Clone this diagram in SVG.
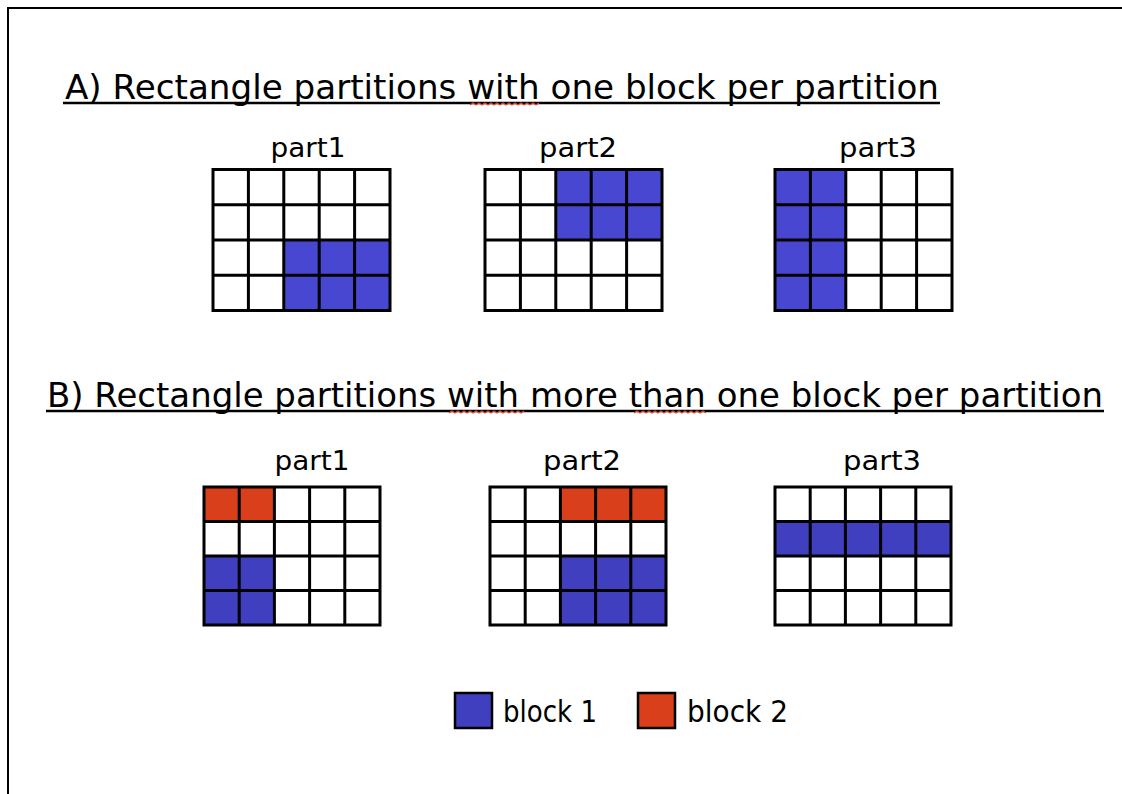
<svg xmlns="http://www.w3.org/2000/svg" xmlns:xlink="http://www.w3.org/1999/xlink" width="1122" height="794" viewBox="0 0 1122 794">
  <style>
    .title { font-family: "DejaVu Sans", "Liberation Sans", sans-serif; font-size: 34px; fill: #000; }
    .part { font-family: "DejaVu Sans", "Liberation Sans", sans-serif; font-size: 27px; fill: #000; text-anchor: middle; }
    .leg { font-family: "DejaVu Sans", "Liberation Sans", sans-serif; font-size: 31px; fill: #000; }
    .grid { fill: none; stroke: #000; stroke-width: 3; stroke-linecap: square; }
    .ul { stroke: #000; stroke-width: 2.5; }
    .sq { fill: none; stroke: #e0482f; stroke-width: 1.2; }
    .b1a { fill: #4747d1; }
    .b1 { fill: #3f3fc0; }
    .b2 { fill: #d83f1a; }
  </style>
  <defs>
    <path id="gridA" class="grid" d="M0,0 H177 V141 H0 Z M35.4,0 V141 M70.8,0 V141 M106.2,0 V141 M141.6,0 V141 M0,35.25 H177 M0,70.5 H177 M0,105.75 H177"/>
    <path id="gridB" class="grid" d="M0,0 H176 V138 H0 Z M35.2,0 V138 M70.4,0 V138 M105.6,0 V138 M140.8,0 V138 M0,34.5 H176 M0,69 H176 M0,103.5 H176"/>
  </defs>
  <rect width="1122" height="794" fill="#fff"/>
  <path d="M8,794 V8 H1122" fill="none" stroke="#000" stroke-width="2"/>

  <g id="titleA">
    <text class="title" x="65" y="99" textLength="874" lengthAdjust="spacingAndGlyphs">A) Rectangle partitions with one block per partition</text>
    <line class="ul" x1="63" y1="103" x2="940" y2="103"/>
    <path class="sq" d="M470,105 l3,-2 l3,2 l3,-2 l3,2 l3,-2 l3,2 l3,-2 l3,2 l3,-2 l3,2 l3,-2 l3,2 l3,-2 l3,2 l3,-2 l3,2 l3,-2 l3,2 l3,-2 l3,2 l3,-2 l3,2 l3,-2"/>
  </g>

  <g id="A-part1">
    <text class="part" x="308" y="157" textLength="75" lengthAdjust="spacingAndGlyphs">part1</text>
    <g transform="translate(213,169.5)">
      <rect class="b1a" x="70.8" y="70.5" width="106.2" height="70.5"/>
      <use xlink:href="#gridA"/>
    </g>
  </g>
  <g id="A-part2">
    <text class="part" x="578" y="157" textLength="78" lengthAdjust="spacingAndGlyphs">part2</text>
    <g transform="translate(485,169.5)">
      <rect class="b1a" x="70.8" y="0" width="106.2" height="70.5"/>
      <use xlink:href="#gridA"/>
    </g>
  </g>
  <g id="A-part3">
    <text class="part" x="878" y="157" textLength="78" lengthAdjust="spacingAndGlyphs">part3</text>
    <g transform="translate(775,169.5)">
      <rect class="b1a" x="0" y="0" width="70.8" height="141"/>
      <use xlink:href="#gridA"/>
    </g>
  </g>

  <g id="titleB">
    <text class="title" x="47" y="407" textLength="1056" lengthAdjust="spacingAndGlyphs">B) Rectangle partitions with more than one block per partition</text>
    <line class="ul" x1="46" y1="411" x2="1104" y2="411"/>
    <path class="sq" d="M449,413 l3,-2 l3,2 l3,-2 l3,2 l3,-2 l3,2 l3,-2 l3,2 l3,-2 l3,2 l3,-2 l3,2 l3,-2 l3,2 l3,-2 l3,2 l3,-2 l3,2 l3,-2 l3,2 l3,-2 l3,2 l3,-2 l3,2 l3,-2"/>
    <path class="sq" d="M634,413 l3,-2 l3,2 l3,-2 l3,2 l3,-2 l3,2 l3,-2 l3,2 l3,-2 l3,2 l3,-2 l3,2 l3,-2 l3,2 l3,-2 l3,2 l3,-2 l3,2 l3,-2 l3,2 l3,-2 l3,2 l3,-2 l3,2"/>
  </g>

  <g id="B-part1">
    <text class="part" x="312" y="470" textLength="75" lengthAdjust="spacingAndGlyphs">part1</text>
    <g transform="translate(204,487)">
      <rect class="b2" x="0" y="0" width="70.4" height="34.5"/>
      <rect class="b1" x="0" y="69" width="70.4" height="69"/>
      <use xlink:href="#gridB"/>
    </g>
  </g>
  <g id="B-part2">
    <text class="part" x="582" y="470" textLength="78" lengthAdjust="spacingAndGlyphs">part2</text>
    <g transform="translate(490,487)">
      <rect class="b2" x="70.4" y="0" width="105.6" height="34.5"/>
      <rect class="b1" x="70.4" y="69" width="105.6" height="69"/>
      <use xlink:href="#gridB"/>
    </g>
  </g>
  <g id="B-part3">
    <text class="part" x="882" y="470" textLength="78" lengthAdjust="spacingAndGlyphs">part3</text>
    <g transform="translate(775,487)">
      <rect class="b1" x="0" y="34.5" width="176" height="34.5"/>
      <use xlink:href="#gridB"/>
    </g>
  </g>

  <g id="legend-block1">
    <rect class="b1" x="455" y="693" width="37" height="35" stroke="#000" stroke-width="2.5"/>
    <text class="leg" x="503" y="722" textLength="94" lengthAdjust="spacingAndGlyphs">block 1</text>
  </g>
  <g id="legend-block2">
    <rect class="b2" x="638" y="693" width="37" height="35" stroke="#000" stroke-width="2.5"/>
    <text class="leg" x="687" y="722" textLength="101" lengthAdjust="spacingAndGlyphs">block 2</text>
  </g>
</svg>
